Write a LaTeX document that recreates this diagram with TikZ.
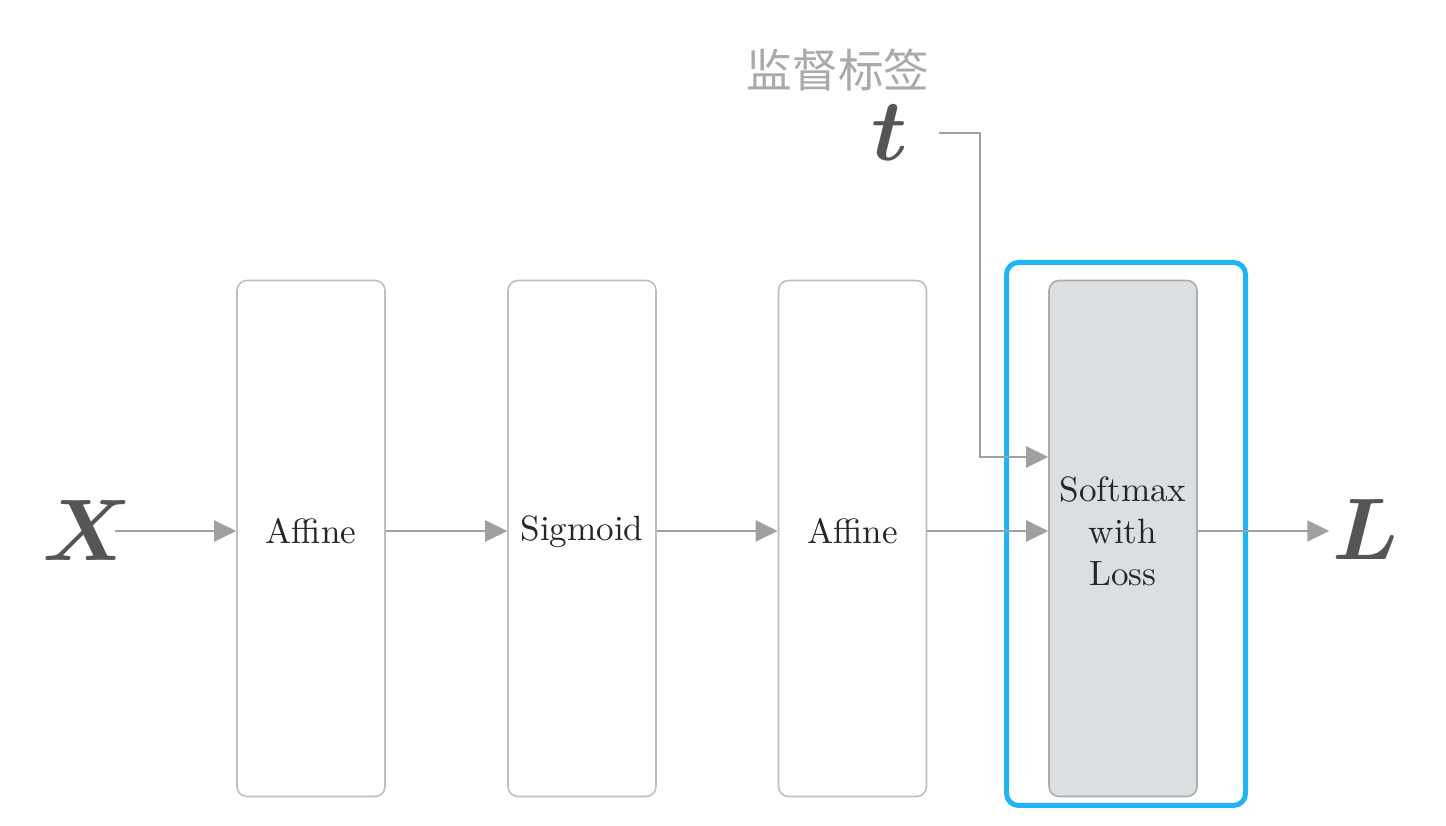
\documentclass[tikz,border=0pt]{standalone}
\usepackage{amsmath}
\usepackage{fontspec}
\usetikzlibrary{arrows.meta,calc}
\newfontfamily\cjk{Noto Sans CJK SC}
\definecolor{FlowClr}{RGB}{160,160,163}
\definecolor{LayerClr}{RGB}{190,190,190}
\definecolor{LossFill}{RGB}{220,223,225}
\definecolor{LossClr}{RGB}{170,172,174}
\definecolor{FrameClr}{RGB}{30,180,245}
\definecolor{VarClr}{RGB}{85,85,85}
\definecolor{NoteClr}{RGB}{170,170,170}

\begin{document}
\begin{tikzpicture}[
  layer/.style={draw=LayerClr,line width=0.45pt,rounded corners=0.1cm,
    minimum width=1.48cm,minimum height=5.16cm,inner sep=0pt},
  lbl/.style={text=black!85,align=center,yshift=0.07cm},
  flow/.style={draw=FlowClr,line width=0.65pt,
    -{Triangle[length=0.22cm,width=0.21cm]}},
  var/.style={text=VarClr,font=\fontsize{23}{26}\selectfont,inner sep=0pt}
]
\useasboundingbox (0,0) rectangle (14.46,8.26);

% layers
\node[layer,label={[lbl]center:Affine}] (af1) at (3.11,2.875) {};
\node[layer,label={[lbl]center:Sigmoid}] (sg) at (5.82,2.875) {};
\node[layer,label={[lbl]center:Affine}] (af2) at (8.525,2.875) {};
\node[layer,draw=LossClr,fill=LossFill,
  label={[lbl]center:Softmax\\with\\Loss}] (sm) at (11.23,2.875) {};
\node[draw=FrameClr,line width=0.05cm,rounded corners=0.12cm,
  minimum width=2.39cm,minimum height=5.43cm] (frame) at (11.26,2.92) {};

% variables
\node[var] (X) at (0.87,2.95) {$\boldsymbol{X}$};
\node[var] (L) at (13.66,2.96) {$\boldsymbol{L}$};
\node[var] (t) at (8.90,6.93) {$\boldsymbol{t}$};
\node[text=NoteClr,font=\cjk\fontsize{13}{15}\selectfont] (note) at (8.38,7.56) {监督标签};

\coordinate (tbend) at (9.80,3.69);

% connectors
\draw[flow,shorten <=-0.18cm] (X.east) -- (X.east -| af1.west);
\draw[flow] (af1.east |- X) -- (sg.west |- X);
\draw[flow] (sg.east |- X) -- (af2.west |- X);
\draw[flow] (af2.east |- X) -- (sm.west |- X);
\draw[flow,shorten >=0.03cm] (sm.east |- X) -- (L.west |- X);
\draw[flow,shorten <=0.30cm] (t.east) -| (tbend) -- (tbend -| sm.west);

\end{tikzpicture}
\end{document}
